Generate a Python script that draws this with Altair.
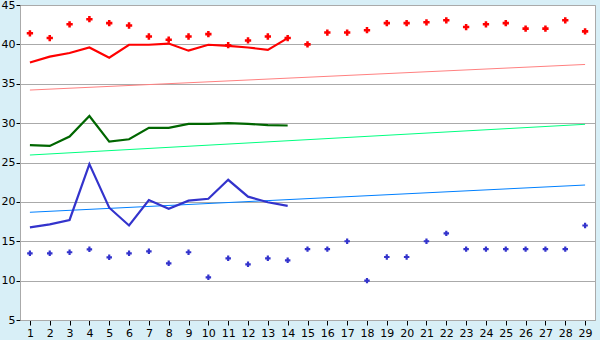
import altair as alt
import pandas as pd

days = list(range(1, 30))
red_points = [41.4, 40.8, 42.55, 43.2, 42.7, 42.4, 41.0, 40.6, 41.0, 41.3, 39.9, 40.5, 41.0, 40.8,
              40.0, 41.5, 41.5, 41.8, 42.7, 42.7, 42.8, 43.05, 42.2, 42.55, 42.7, 42.0, 42.0, 43.05, 41.65]
blue_points = [13.47, 13.47, 13.6, 13.98, 12.96, 13.47, 13.72, 12.2, 13.6, 10.42, 12.83, 12.07, 12.83, 12.58,
               14.0, 14.0, 15.0, 10.0, 13.0, 13.0, 15.0, 16.0, 14.0, 14.0, 14.0, 14.0, 14.0, 14.0, 17.0]
line_days = list(range(1, 15))
red_line = [37.7, 38.45, 38.9, 39.6, 38.3, 39.95, 39.95, 40.1, 39.2, 39.95, 39.8, 39.6, 39.3, 40.8]
green_line = [27.2, 27.1, 28.3, 30.9, 27.65, 27.95, 29.4, 29.4, 29.9, 29.9, 30.0, 29.9, 29.75, 29.7]
blue_line = [16.77, 17.15, 17.7, 24.8, 19.26, 17.0, 20.24, 19.13, 20.15, 20.4, 22.8, 20.66, 19.95, 19.5]
trend_days = [1, 29]
red_trend = [34.2, 37.45]
green_trend = [25.95, 29.85]
blue_trend = [18.68, 22.14]

lines = pd.DataFrame(
    [{"day": d, "v": v, "s": "red"} for d, v in zip(line_days, red_line)]
    + [{"day": d, "v": v, "s": "green"} for d, v in zip(line_days, green_line)]
    + [{"day": d, "v": v, "s": "blue"} for d, v in zip(line_days, blue_line)]
)
trends = pd.DataFrame(
    [{"day": d, "v": v, "s": "rt"} for d, v in zip(trend_days, red_trend)]
    + [{"day": d, "v": v, "s": "gt"} for d, v in zip(trend_days, green_trend)]
    + [{"day": d, "v": v, "s": "bt"} for d, v in zip(trend_days, blue_trend)]
)
rp = pd.DataFrame({"day": days, "v": red_points})
bp = pd.DataFrame({"day": days, "v": blue_points})

x = alt.X("day:Q", scale=alt.Scale(domain=[0.5, 29.5], nice=False, zero=False),
          axis=alt.Axis(values=days, title=None, grid=False, domainColor="#aaaaaa",
                        tickColor="#000000", tickSize=5, labelFont="DejaVu Sans",
                        labelFontSize=11, labelColor="#000000", labelPadding=2))
y = alt.Y("v:Q", scale=alt.Scale(domain=[5, 45], nice=False, zero=False),
          axis=alt.Axis(values=list(range(5, 50, 5)), title=None, grid=True,
                        gridColor="#aaaaaa", domainColor="#aaaaaa", tickColor="#000000",
                        tickSize=4, labelFont="DejaVu Sans", labelFontSize=11,
                        labelColor="#000000", labelPadding=1))

trend_layer = alt.Chart(trends).mark_line(strokeWidth=1).encode(
    x=x, y=y, detail="s:N",
    color=alt.Color("s:N", scale=alt.Scale(domain=["rt", "gt", "bt"],
                                           range=["#ff8080", "#00ff80", "#0080ff"]), legend=None))
line_layer = alt.Chart(lines).mark_line(strokeWidth=2.2).encode(
    x=x, y=y, detail="s:N",
    color=alt.Color("s:N", scale=alt.Scale(domain=["red", "green", "blue"],
                                           range=["#ff0000", "#006600", "#3333cc"]), legend=None))
red_layer = alt.Chart(rp).mark_point(shape="cross", filled=True, size=40, color="#ff0000", opacity=1).encode(x=x, y=y)
blue_layer = alt.Chart(bp).mark_point(shape="cross", filled=True, size=30, color="#3333cc", opacity=1).encode(x=x, y=y)

chart = alt.layer(trend_layer, line_layer, red_layer, blue_layer).resolve_scale(color="independent").properties(
    width=575, height=315, background="#d8eff7",
    padding={"left": 20, "top": 5, "right": 5, "bottom": 20},
    autosize=alt.AutoSizeParams(type="none"),
).configure_view(fill="#ffffff", stroke="#aaaaaa", strokeWidth=1)

chart.save("out.html", embed_options={"renderer": "svg", "actions": False})
